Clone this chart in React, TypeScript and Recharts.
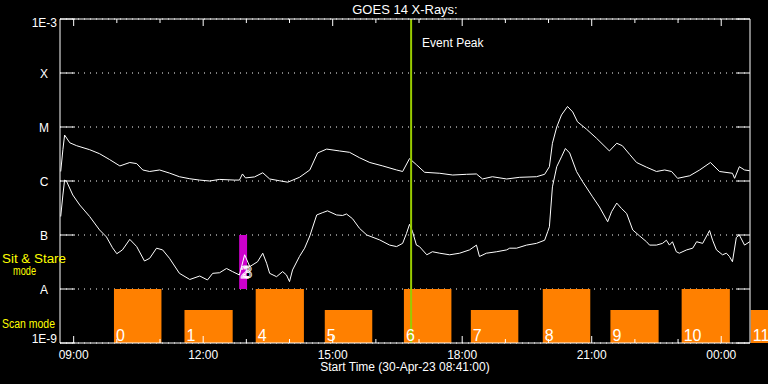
import { LineChart, Line, XAxis, YAxis, CartesianGrid, ReferenceArea, ReferenceLine } from "recharts"

const FONT = '"Liberation Sans", Arial, sans-serif'

// clock time -> hours since 30-Apr 00:00 (times before 08:00 belong to the next day)
const hrs = (s: string) => {
  const [h, m] = s.split(":").map(Number)
  return (h < 8 ? h + 24 : h) + m / 60
}
const fmtHour = (h: number) => `${String(h % 24).padStart(2, "0")}:00`

const tStart = "08:41"
const tEnd = "00:40"
const hourTicks = [9, 10, 11, 12, 13, 14, 15, 16, 17, 18, 19, 20, 21, 22, 23, 24]
const fluxTicks = [1e-9, 1e-8, 1e-7, 1e-6, 1e-5, 1e-4, 1e-3]
const fluxTickLabels = ["1E-9", "A", "B", "C", "M", "X", "1E-3"]

// 1-8 A channel
const longTimes = [
  8.7, 8.75, 8.79, 8.91, 9.07, 9.37, 9.6, 9.83, 10.07, 10.3, 10.46, 10.6, 10.76, 10.99, 11.22, 11.45,
  11.69, 11.92, 12.15, 12.38, 12.73, 12.84, 12.91, 12.98, 13.19, 13.38, 13.54, 13.77, 13.96, 14.23,
  14.47, 14.65, 14.86, 15.16, 15.39, 15.62, 15.86, 16.16, 16.48, 16.62, 16.78, 16.94, 17.13, 17.48,
  17.78, 18.1, 18.33, 18.47, 18.7, 19.03, 19.33, 19.72, 19.91, 20.02, 20.09, 20.19, 20.3, 20.44,
  20.56, 20.67, 20.88, 21.11, 21.41, 21.58, 21.71, 21.88, 22.04, 22.27, 22.5, 22.69, 22.85, 22.99,
  23.27, 23.5, 23.75, 23.96, 24.26, 24.31, 24.42, 24.54, 24.66,
]
const longFlux = [
  1.5e-6, 3.8e-6, 7.1e-6, 5.1e-6, 4.5e-6, 3.8e-6, 3.2e-6, 2.5e-6, 1.9e-6, 2.2e-6, 2.1e-6, 1.6e-6,
  1.5e-6, 1.6e-6, 1.4e-6, 1.2e-6, 1.1e-6, 1.04e-6, 1.0e-6, 1.07e-6, 1.04e-6, 1.04e-6, 1.35e-6,
  1.14e-6, 1.19e-6, 1.42e-6, 1.09e-6, 1.01e-6, 9.5e-7, 1.17e-6, 1.6e-6, 3.3e-6, 3.9e-6, 3.6e-6,
  3.4e-6, 2.7e-6, 2.2e-6, 1.9e-6, 1.6e-6, 1.5e-6, 2.6e-6, 2.0e-6, 1.45e-6, 1.39e-6, 1.29e-6, 1.33e-6,
  1.35e-6, 1.09e-6, 1.2e-6, 1.09e-6, 1.17e-6, 1.2e-6, 1.33e-6, 1.84e-6, 5.0e-6, 1.0e-5, 1.67e-5,
  2.4e-5, 1.9e-5, 1.25e-5, 9.1e-6, 6.2e-6, 3.6e-6, 5.0e-6, 4.5e-6, 3.1e-6, 2.2e-6, 1.8e-6, 1.5e-6,
  1.6e-6, 1.5e-6, 1.12e-6, 1.25e-6, 1.6e-6, 2.2e-6, 1.5e-6, 1.39e-6, 1.12e-6, 1.84e-6, 1.6e-6, 1.55e-6,
]

// 0.5-4 A channel
const shortTimes = [
  8.7, 8.75, 8.79, 8.84, 8.98, 9.14, 9.37, 9.6, 9.76, 9.9, 10.0, 10.13, 10.3, 10.46, 10.64, 10.76,
  10.92, 11.06, 11.22, 11.45, 11.69, 11.92, 12.1, 12.22, 12.38, 12.54, 12.68, 12.84, 12.96, 13.08,
  13.26, 13.38, 13.47, 13.54, 13.7, 13.84, 13.93, 14.0, 14.07, 14.23, 14.35, 14.47, 14.63, 14.77,
  14.88, 15.09, 15.23, 15.32, 15.46, 15.62, 15.79, 16.09, 16.32, 16.48, 16.62, 16.71, 16.78, 16.85,
  16.94, 17.01, 17.18, 17.31, 17.48, 17.71, 17.94, 18.17, 18.33, 18.4, 18.56, 18.8, 19.03, 19.1,
  19.26, 19.49, 19.72, 19.91, 19.98, 20.02, 20.09, 20.19, 20.3, 20.39, 20.49, 20.65, 20.79, 21.02,
  21.18, 21.37, 21.46, 21.58, 21.69, 21.81, 21.95, 22.11, 22.27, 22.34, 22.5, 22.64, 22.73, 22.8,
  22.87, 22.96, 23.03, 23.2, 23.34, 23.43, 23.57, 23.73, 23.8, 23.89, 24.03, 24.12, 24.19, 24.26,
  24.35, 24.42, 24.54, 24.66,
]
const shortFlux = [
  2.2e-7, 5.5e-7, 1.04e-6, 9.7e-7, 5.5e-7, 3.6e-7, 2.2e-7, 1.24e-7, 9.2e-8, 5.8e-8, 4.5e-8, 5.3e-8,
  8.3e-8, 6.1e-8, 3.3e-8, 3.7e-8, 5.7e-8, 5.3e-8, 3.7e-8, 1.95e-8, 1.5e-8, 1.74e-8, 1.47e-8, 1.95e-8,
  2.0e-8, 2.4e-8, 2.1e-8, 1.82e-8, 4.3e-8, 2.6e-8, 3.2e-8, 4.6e-8, 3.0e-8, 1.95e-8, 1.69e-8, 2.1e-8,
  1.82e-8, 1.37e-8, 2.25e-8, 4.0e-8, 5.7e-8, 9.6e-8, 2.35e-7, 2.6e-7, 2.8e-7, 2.35e-7, 2.3e-7,
  2.45e-7, 2.0e-7, 1.33e-7, 1.0e-7, 8.1e-8, 6.5e-8, 6.1e-8, 7.0e-8, 1.07e-7, 1.58e-7, 1.15e-7,
  6.5e-8, 6.1e-8, 4.3e-8, 4.9e-8, 4.6e-8, 4.3e-8, 4.6e-8, 5.3e-8, 6.5e-8, 4.0e-8, 4.6e-8, 4.9e-8,
  5.3e-8, 5.7e-8, 5.7e-8, 6.5e-8, 7.0e-8, 8.0e-8, 1.15e-7, 1.42e-7, 7.8e-7, 1.84e-6, 2.8e-6, 4.0e-6,
  3.3e-6, 1.49e-6, 9.7e-7, 5.1e-7, 3.3e-7, 1.76e-7, 2.7e-7, 3.9e-7, 3.1e-7, 2.5e-7, 1.24e-7, 9.6e-8,
  7.5e-8, 6.5e-8, 6.5e-8, 7.0e-8, 8.0e-8, 6.5e-8, 7.5e-8, 4.9e-8, 4.6e-8, 5.3e-8, 5.7e-8, 7.5e-8,
  7.0e-8, 1.21e-7, 8.0e-8, 5.3e-8, 4.3e-8, 4.6e-8, 4.0e-8, 3.2e-8, 9.0e-8, 1.0e-7, 6.5e-8, 7.5e-8,
]

// observing windows
const scanLabels = ["0", "1", "4", "5", "6", "7", "8", "9", "10", "11"]
const scanStart = ["09:56", "11:34", "13:13", "14:49", "16:39", "18:12", "19:52", "21:26", "23:05", "00:41"]
const scanEnd = ["11:02", "12:41", "14:20", "15:55", "17:45", "19:18", "20:58", "22:33", "00:12", "01:47"]
const scanKind = ["tall", "short", "tall", "short", "tall", "short", "tall", "short", "tall", "short"]
const sitLabels = ["2", "3"]
const sitStart = "12:50"
const sitEnd = "13:01"
const eventPeak = "16:49"

const longData = longTimes.map((t, i) => ({ t, flux: longFlux[i] }))
const shortData = shortTimes.map((t, i) => ({ t, flux: shortFlux[i] }))

function BottomTick({ x, y, payload }: any) {
  const major = payload.value % 3 === 0
  return (
    <g>
      <line x1={x} y1={y} x2={x} y2={y - (major ? 7 : 4)} stroke="#fff" />
      {major && (
        <text x={x} y={y + 16} textAnchor="middle" fill="#fff" fontSize={12} fontFamily={FONT}>
          {fmtHour(payload.value)}
        </text>
      )}
    </g>
  )
}

function TopTick({ x, y, payload }: any) {
  const major = payload.value % 3 === 0
  return <line x1={x} y1={y} x2={x} y2={y + (major ? 7 : 4)} stroke="#fff" />
}

function LeftTick({ x, y, index }: any) {
  const label = fluxTickLabels[index]
  let text
  if (index === 0) {
    text = <text x={x - 3} y={y} textAnchor="end" fill="#fff" fontSize={12} fontFamily={FONT}>{label}</text>
  } else if (index === fluxTicks.length - 1) {
    text = <text x={x - 3} y={y + 8} textAnchor="end" fill="#fff" fontSize={12} fontFamily={FONT}>{label}</text>
  } else {
    text = <text x={x - 16} y={y + 4.5} textAnchor="middle" fill="#fff" fontSize={12} fontFamily={FONT}>{label}</text>
  }
  return (
    <g>
      <line x1={x} y1={y} x2={x + 15} y2={y} stroke="#fff" />
      {text}
    </g>
  )
}

function RightTick({ x, y }: any) {
  return <line x1={x} y1={y} x2={x - 14} y2={y} stroke="#fff" />
}

export default function App() {
  return (
    <div style={{ position: "absolute", left: 0, top: 0, width: 768, height: 384, background: "#000" }}>
      <LineChart width={768} height={384} margin={{ top: 18, right: 17, bottom: 40, left: 59 }}>
        <XAxis xAxisId="bottom" dataKey="t" type="number" domain={[hrs(tStart), hrs(tEnd)]} allowDataOverflow
          ticks={hourTicks} interval={0} height={1} tickSize={0} tickMargin={0} tickLine={false}
          axisLine={{ stroke: "#fff" }} tick={<BottomTick />} />
        <XAxis xAxisId="top" orientation="top" dataKey="t" type="number" domain={[hrs(tStart), hrs(tEnd)]} allowDataOverflow
          ticks={hourTicks} interval={0} height={1} tickSize={0} tickMargin={0} tickLine={false}
          axisLine={{ stroke: "#fff" }} tick={<TopTick />} />
        <YAxis yAxisId="left" type="number" scale="log" domain={[1e-9, 1e-3]} allowDataOverflow
          ticks={fluxTicks} interval={0} width={1} tickSize={0} tickMargin={0} tickLine={false}
          axisLine={{ stroke: "#fff" }} tick={<LeftTick />} />
        <YAxis yAxisId="right" orientation="right" type="number" scale="log" domain={[1e-9, 1e-3]} allowDataOverflow
          ticks={fluxTicks} interval={0} width={1} tickSize={0} tickMargin={0} tickLine={false}
          axisLine={{ stroke: "#fff" }} tick={<RightTick />} />
        <CartesianGrid xAxisId="bottom" yAxisId="left" vertical={false} stroke="#fff" strokeDasharray="1 5" />

        {scanStart.map((s, i) => (
          <ReferenceArea key={s} xAxisId="bottom" yAxisId="left" x1={hrs(s)} x2={hrs(scanEnd[i])}
            y1={1e-9} y2={scanKind[i] === "tall" ? 1e-8 : 4.1e-9} fill="#ff8000" fillOpacity={1}
            ifOverflow="visible"
            label={{ value: scanLabels[i], position: "insideBottomLeft", offset: 2, fill: "#fff", fontSize: 16, fontFamily: FONT }} />
        ))}
        <ReferenceArea xAxisId="bottom" yAxisId="left" x1={hrs(sitStart)} x2={hrs(sitEnd)} y1={1e-8} y2={1e-7}
          fill="#cc00cc" fillOpacity={1} ifOverflow="visible"
          label={(p: any) => (
            <g>
              {sitLabels.map((t, j) => (
                <text key={t} x={p.viewBox.x + 1 + j * 3} y={p.viewBox.y + p.viewBox.height - 11}
                  fill="none" stroke="#fff" strokeWidth={0.8} fontSize={16} fontFamily={FONT}>{t}</text>
              ))}
            </g>
          )} />

        <Line xAxisId="bottom" yAxisId="left" data={longData} dataKey="flux" type="linear" stroke="#fff"
          strokeWidth={1} dot={false} isAnimationActive={false} />
        <Line xAxisId="bottom" yAxisId="left" data={shortData} dataKey="flux" type="linear" stroke="#fff"
          strokeWidth={1} dot={false} isAnimationActive={false} />

        <ReferenceLine xAxisId="bottom" yAxisId="left" x={hrs(eventPeak)} stroke="#99cc00" strokeWidth={2}
          label={(p: any) => (
            <text x={p.viewBox.x + 11} y={p.viewBox.y + 28} fill="#fff" fontSize={12} fontFamily={FONT}>Event Peak</text>
          )} />
      </LineChart>

      <svg width={768} height={384} style={{ position: "absolute", left: 0, top: 0, pointerEvents: "none" }}>
        <text x={405} y={14} textAnchor="middle" fill="#fff" fontSize={13} fontFamily={FONT}>GOES 14 X-Rays:</text>
        <text x={405} y={371} textAnchor="middle" fill="#fff" fontSize={12} fontFamily={FONT}>Start Time (30-Apr-23 08:41:00)</text>
        <text x={2} y={263} fill="#ffff00" fontSize={12} fontFamily={FONT} textLength={64} lengthAdjust="spacingAndGlyphs">Sit &amp; Stare</text>
        <text x={13} y={275} fill="#ffff00" fontSize={12} fontFamily={FONT} textLength={23} lengthAdjust="spacingAndGlyphs">mode</text>
        <text x={2} y={328} fill="#ffff00" fontSize={12} fontFamily={FONT} textLength={53} lengthAdjust="spacingAndGlyphs">Scan mode</text>
      </svg>
    </div>
  )
}
